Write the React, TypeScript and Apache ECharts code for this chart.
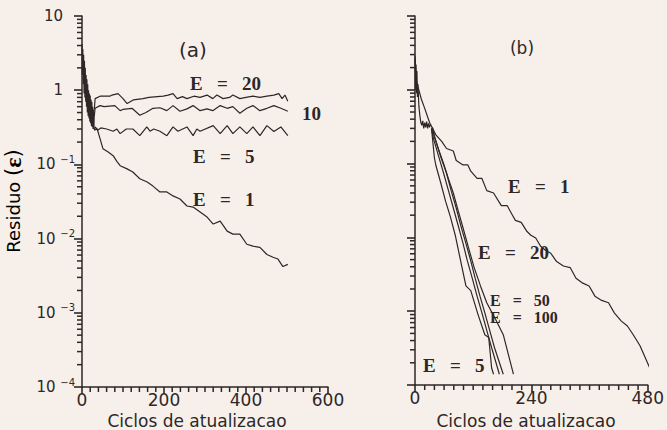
import React, { useEffect, useRef } from 'react';
import * as echarts from 'echarts';

// ---------- data (cycles, residual) ----------
const spikeA = [
  [0, 4.2], [1, 1.6], [2, 3.6], [3, 1.2], [4, 3.0], [5, 0.9], [6, 2.5], [7, 0.8], [8, 2.0], [9, 0.7],
  [10, 1.6], [11, 0.6], [12, 1.4], [13, 0.5], [14, 1.2], [15, 0.45], [16, 1.0], [17, 0.42], [18, 0.9],
  [19, 0.38], [20, 0.85], [21, 0.36], [22, 0.75], [23, 0.33], [24, 0.7], [25, 0.32], [26, 0.6], [27, 0.3],
  [28, 0.55], [29, 0.3], [30, 0.5],
];
const e20A = [
  [30, 0.55], [32, 0.77], [44, 0.83], [68, 0.83], [73, 0.86], [88, 0.9], [100, 0.77], [110, 0.66], [125, 0.74],
  [149, 0.77], [163, 0.8], [198, 0.83], [210, 0.86], [222, 0.9], [232, 0.77], [245, 0.82], [256, 0.77],
  [273, 0.83], [288, 0.8], [305, 0.86], [319, 0.77], [329, 0.86], [344, 0.77], [360, 0.8], [368, 0.86],
  [385, 0.77], [400, 0.8], [417, 0.83], [434, 0.8], [451, 0.83], [468, 0.86], [480, 0.9], [488, 0.77],
  [495, 0.86], [502, 0.71],
];
const e10A = [
  [30, 0.45], [32, 0.57], [44, 0.62], [54, 0.6], [80, 0.62], [93, 0.53], [100, 0.55], [122, 0.57], [141, 0.46],
  [156, 0.5], [173, 0.57], [190, 0.58], [207, 0.53], [222, 0.62], [239, 0.52], [256, 0.56], [271, 0.62],
  [288, 0.53], [305, 0.56], [319, 0.53], [337, 0.62], [354, 0.57], [368, 0.6], [385, 0.49], [402, 0.57],
  [417, 0.62], [434, 0.53], [451, 0.57], [468, 0.62], [485, 0.57], [502, 0.52],
];
const e5A = [
  [30, 0.29], [32, 0.32], [39, 0.29], [46, 0.31], [60, 0.3], [76, 0.28], [85, 0.3], [93, 0.26], [108, 0.3],
  [124, 0.3], [141, 0.244], [158, 0.32], [166, 0.28], [175, 0.3], [190, 0.28], [207, 0.244], [222, 0.32],
  [234, 0.28], [256, 0.32], [271, 0.244], [280, 0.3], [288, 0.28], [320, 0.333], [337, 0.26], [354, 0.333],
  [368, 0.26], [385, 0.32], [402, 0.26], [417, 0.32], [434, 0.244], [451, 0.333], [468, 0.277], [485, 0.32],
  [502, 0.244],
];
const e1A = [
  [30, 0.29], [37, 0.3], [44, 0.222], [51, 0.163], [63, 0.148], [76, 0.131], [85, 0.11], [93, 0.096],
  [110, 0.087], [124, 0.079], [141, 0.064], [159, 0.058], [173, 0.051], [190, 0.0425], [207, 0.0425],
  [222, 0.0376], [239, 0.0342], [256, 0.0275], [271, 0.0266], [288, 0.0228], [305, 0.0195], [320, 0.0157],
  [337, 0.0172], [354, 0.0126], [368, 0.0115], [385, 0.0115], [402, 0.0084], [417, 0.0079], [434, 0.0076],
  [451, 0.0061], [466, 0.0056], [478, 0.0053], [490, 0.0042], [502, 0.0045],
];

const spikeB = [
  [0, 2.6], [1, 1.0], [2, 2.2], [3, 0.9], [4, 1.8], [5, 0.8], [6, 1.2], [8, 0.6], [10, 0.45], [12, 0.36],
  [14, 0.33], [16, 0.38], [18, 0.3], [20, 0.36], [22, 0.31], [24, 0.37], [26, 0.3], [28, 0.35], [30, 0.31], [32, 0.34],
];
const e1B = [
  [0, 2.9], [3, 1.3], [6, 1.1], [13, 0.75], [20, 0.56], [30, 0.36], [43, 0.245], [55, 0.2], [65, 0.16],
  [79, 0.148], [85, 0.11], [99, 0.096], [109, 0.096], [115, 0.079], [128, 0.063], [138, 0.063], [148, 0.043],
  [162, 0.04], [178, 0.027], [190, 0.027], [201, 0.02], [207, 0.017], [219, 0.016], [231, 0.012],
  [239, 0.0107], [249, 0.0098], [259, 0.0076], [269, 0.0067], [280, 0.0061], [292, 0.0047], [306, 0.0041],
  [320, 0.0039], [332, 0.0028], [346, 0.0024], [359, 0.0022], [371, 0.0016], [385, 0.0014], [399, 0.0013],
  [411, 0.00095], [425, 0.00074], [438, 0.00063], [450, 0.00048], [464, 0.00034], [484, 0.00017],
];
const e5B = [
  [34, 0.3], [40, 0.12], [43, 0.095], [53, 0.055], [63, 0.031], [73, 0.019], [83, 0.0107], [93, 0.0052],
  [105, 0.0022], [115, 0.0019], [130, 0.0009], [144, 0.00048], [152, 0.00044], [158, 0.00017], [162, 0.00014],
];
const e20B = [
  [36, 0.31], [38, 0.26], [48, 0.16], [59, 0.1], [69, 0.062], [79, 0.04], [89, 0.023], [99, 0.0135],
  [110, 0.0074], [122, 0.0039], [135, 0.0022], [148, 0.0013], [165, 0.0008], [182, 0.00048], [203, 0.00014],
];
const e50B = [
  [36, 0.3], [41, 0.22], [52, 0.13], [65, 0.074], [75, 0.042], [85, 0.025], [95, 0.014], [105, 0.0083],
  [115, 0.0048], [124, 0.0028], [134, 0.0016], [144, 0.00095], [154, 0.00055], [164, 0.00032], [182, 0.00014],
];
const e100B = [
  [34, 0.3], [38, 0.22], [48, 0.13], [59, 0.074], [69, 0.043], [79, 0.025], [89, 0.0145], [99, 0.0083],
  [108, 0.0048], [118, 0.0028], [128, 0.0016], [138, 0.00095], [148, 0.00055], [158, 0.00032], [174, 0.00014],
];

const xTitle = 'Ciclos de atualizacao';
const yTitle = 'Residuo';
const panelTags = ['(a)', '(b)'];
const decades = [1e-4, 1e-3, 1e-2, 1e-1, 1];
const mantissas = [2, 3, 4, 5, 6, 7, 8, 9];
const xMinorStep = 20;

const INK = '#2d2727';
const BG = '#f7f0ea';
const SANS = 'DejaVu Sans';
const SERIF = 'Liberation Serif';

export default function App() {
  const ref = useRef<HTMLDivElement>(null);
  useEffect(() => {
    const chart = echarts.init(ref.current!, null, { renderer: 'svg' });
    const line = (data: number[][], i: number) => ({
      type: 'line',
      xAxisIndex: i,
      yAxisIndex: i,
      data,
      symbol: 'none',
      silent: true,
      lineStyle: { color: INK, width: 1.2 },
    });
    const xAxisBase = (max: number, interval: number, gi: number) => ({
      type: 'value',
      gridIndex: gi,
      min: 0,
      max,
      interval,
      axisLine: { lineStyle: { color: INK, width: 1.5 } },
      axisTick: { show: true, length: 7, lineStyle: { color: INK, width: 1.6 } },
      splitLine: { show: false },
      axisLabel: { color: INK, fontFamily: SANS, fontSize: 17, margin: 4 },
    });
    const yAxisBase = (gi: number, showLabel: boolean) => ({
      type: 'log',
      logBase: 10,
      gridIndex: gi,
      min: 1e-4,
      max: 10,
      splitNumber: 5,
      axisLine: { show: true, lineStyle: { color: INK, width: 1.5 } },
      axisTick: { show: true, length: 8, lineStyle: { color: INK, width: 1.6 } },
      splitLine: { show: false },
      axisLabel: {
        show: showLabel,
        margin: 7,
        formatter: (v: number) => {
          const e = Math.round(Math.log10(v));
          if (e === 1) return '{bp|10}';
          if (e === 0) return '{bp|1}';
          return `{b|10 }{s|−${-e}}`;
        },
        rich: {
          b: { fontFamily: SANS, fontSize: 15, color: INK, lineHeight: 20 },
          bp: { fontFamily: SANS, fontSize: 15, color: INK, lineHeight: 20, padding: [0, 12, 0, 0] },
          s: { fontFamily: SANS, fontSize: 10, color: INK, lineHeight: 11, verticalAlign: 'top' },
        },
      },
    });
    const lbl = (text: string, x: number, y: number, size = 19) => ({
      type: 'text',
      x,
      y,
      style: {
        text,
        fill: INK,
        font: `bold ${size}px "${SERIF}"`,
        verticalAlign: 'middle',
        align: 'left',
      },
    });
    chart.setOption({
      animation: false,
      backgroundColor: BG,
      grid: [
        { left: 82, top: 16, width: 246, height: 371 },
        { left: 415, top: 16, width: 243, height: 369 },
      ],
      xAxis: [xAxisBase(600, 200, 0), xAxisBase(480, 240, 1)],
      yAxis: [yAxisBase(0, true), yAxisBase(1, false)],
      series: [
        line(spikeA, 0),
        line(e20A, 0),
        line(e10A, 0),
        line(e5A, 0),
        line(e1A, 0),
        line(spikeB, 1),
        line(e1B, 1),
        line(e5B, 1),
        line(e20B, 1),
        line(e50B, 1),
        line(e100B, 1),
      ],
    });

    // minor ticks, positioned through the chart's own axis scales
    const ticks: any[] = [];
    const tickLine = (x1: number, y1: number, x2: number, y2: number) => ({
      type: 'line',
      silent: true,
      shape: { x1, y1, x2, y2 },
      style: { stroke: INK, lineWidth: 1.5 },
      z: 10,
    });
    [
      { gi: 0, max: 600, major: 200 },
      { gi: 1, max: 480, major: 240 },
    ].forEach(({ gi, max, major }) => {
      const finder = { xAxisIndex: gi, yAxisIndex: gi };
      decades.forEach((d) =>
        mantissas.forEach((m) => {
          const p = chart.convertToPixel(finder, [0, d * m]) as number[];
          if (p) ticks.push(tickLine(p[0] - 5, p[1], p[0], p[1]));
        })
      );
      for (let v = xMinorStep; v < max; v += xMinorStep) {
        if (v % major === 0) continue;
        const p = chart.convertToPixel(finder, [v, 1e-4]) as number[];
        if (p) ticks.push(tickLine(p[0], p[1], p[0], p[1] + 5));
      }
    });

    chart.setOption({
      graphic: [
        ...ticks,
        {
          type: 'text',
          x: 197,
          y: 421,
          style: { text: xTitle, fill: INK, font: `17px "${SANS}"`, align: 'center', verticalAlign: 'middle' },
        },
        {
          type: 'text',
          x: 526,
          y: 421,
          style: { text: xTitle, fill: INK, font: `17px "${SANS}"`, align: 'center', verticalAlign: 'middle' },
        },
        {
          type: 'text',
          x: 13,
          y: 201,
          rotation: Math.PI / 2,
          style: {
            text: `{r|${yTitle} }{p|(}{e|ε}{p|)}`,
            align: 'center',
            verticalAlign: 'middle',
            rich: {
              r: { fontFamily: SANS, fontSize: 18, color: INK },
              p: { fontFamily: SANS, fontSize: 21, color: INK },
              e: { fontFamily: SERIF, fontSize: 24, fontWeight: 'bold', color: INK },
            },
          },
        },
        {
          type: 'text',
          x: 193,
          y: 50,
          style: { text: panelTags[0], fill: INK, font: `20px "${SANS}"`, align: 'center', verticalAlign: 'middle' },
        },
        {
          type: 'text',
          x: 522,
          y: 48,
          style: { text: panelTags[1], fill: INK, font: `17px "${SANS}"`, align: 'center', verticalAlign: 'middle' },
        },
        lbl('E   =   20', 190, 83),
        lbl('10', 302, 113),
        lbl('E   =   5', 193, 156),
        lbl('E   =   1', 193, 199),
        lbl('E   =   1', 508, 186),
        lbl('E   =   20', 478, 252),
        lbl('E   =   50', 490, 300, 16),
        lbl('E   =   100', 490, 317, 16),
        lbl('E   =   5', 423, 365),
      ],
    });
    return () => chart.dispose();
  }, []);
  return (
    <div
      ref={ref}
      style={{ position: 'absolute', left: 0, top: 0, width: 667, height: 430, background: BG }}
    />
  );
}
